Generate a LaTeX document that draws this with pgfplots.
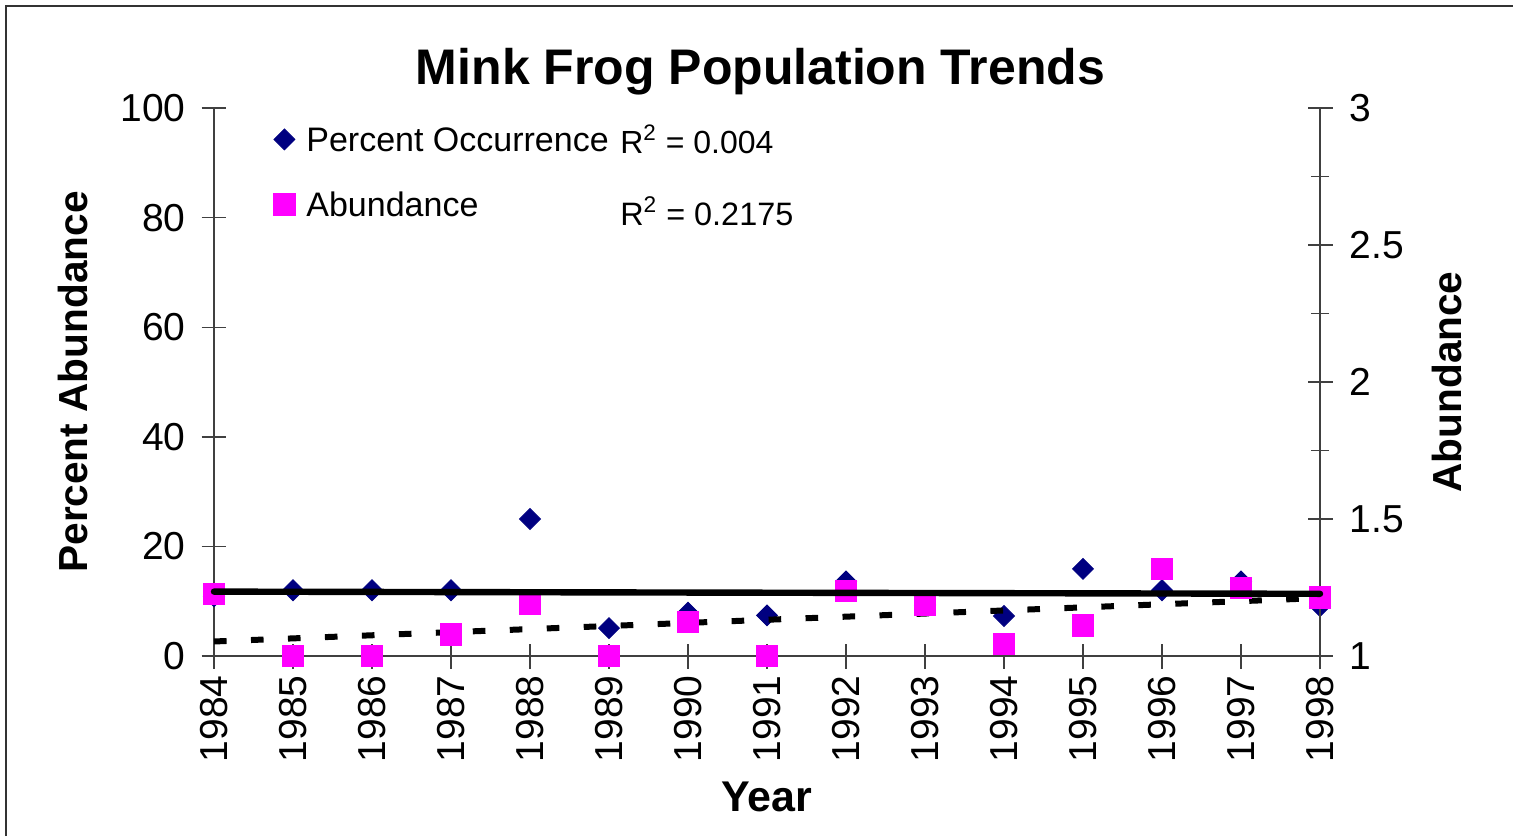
\documentclass[border=0pt]{standalone}
\usepackage{fontspec}
\setmainfont{Liberation Sans}
\usepackage{pgfplots}
\pgfplotsset{compat=1.18}
\definecolor{navyd}{HTML}{000080}
\definecolor{magd}{HTML}{FF00FF}
\pgfplotsset{base/.style={
  width=553pt,height=274pt,scale only axis,
  at={(107pt,90pt)},anchor=south west,
  xmin=1984,xmax=1998,clip=false,
  /pgf/number format/assume math mode=true,
  tick label style={font=\fontsize{19.5}{23}\selectfont},
  tick align=center,major tick length=12.5pt,minor tick length=9pt,
  axis line style={-,line width=0.7pt,black!75},
  every tick/.style={line width=0.7pt,black!75}
}}
\begin{document}
\begin{tikzpicture}
\useasboundingbox (0,0) rectangle (756.5pt,418pt);
\draw[line width=1pt,black!80] (2.75pt,0) -- (2.75pt,415pt) -- (756.5pt,415pt);
\begin{axis}[base,
  axis x line*=bottom, axis y line*=left,
  ymin=0,ymax=100,ytick={0,20,40,60,80,100},
  yticklabel style={xshift=-4.5pt},
  xtick={1984,1985,...,1998},
  xticklabel style={rotate=90,anchor=east,/pgf/number format/1000 sep={}},
  title={Mink Frog Population Trends},
  title style={at={(axis description cs:0.494,1.0438)},anchor=center,font=\bfseries\fontsize{25}{30}\selectfont},
  xlabel={Year},
  xlabel style={at={(axis description cs:0.5,-0.2573)},anchor=center,font=\bfseries\fontsize{21.5}{25}\selectfont},
  ylabel={Percent Abundance},
  ylabel style={at={(axis description cs:-0.1275,0.5)},anchor=center,font=\bfseries\fontsize{20.3}{24}\selectfont},
  legend style={at={(axis description cs:0,1)},anchor=north west,xshift=29.6pt,yshift=-9.5pt,
    draw=none,fill=none,inner sep=0pt,row sep=20.5pt,column sep=5.6pt,
    font=\fontsize{17}{20}\selectfont,
    nodes={inner sep=0pt,text height=12pt,text depth=0pt}},
  legend cell align=left,
  legend image code/.code={\draw[#1] plot coordinates {(0pt,0pt)};},
]
\addplot[only marks,mark=square*,mark size=3.7pt,color=navyd,mark options={rotate=45,fill=navyd,draw=navyd}]
coordinates {(1984,10.9)(1985,12)(1986,12)(1987,12)(1988,25)(1989,5.1)(1990,7.9)(1991,7.4)
(1992,13.6)(1993,9.3)(1994,7.3)(1995,15.9)(1996,12)(1997,13.6)(1998,9.1)};
\addlegendentry{Percent Occurrence}
\addlegendimage{only marks,mark=square*,mark size=5.4pt,color=magd}
\addlegendentry{Abundance}
\node[anchor=west,inner sep=0pt,font=\fontsize{16}{19}\selectfont] at (axis description cs:0.367,0.943) {R\textsuperscript{2} = 0.004};
\node[anchor=west,inner sep=0pt,font=\fontsize{16.2}{19}\selectfont] at (axis description cs:0.367,0.812) {R\textsuperscript{2} = 0.2175};
\end{axis}
\begin{axis}[base,
  axis x line=none, axis y line*=right,
  ymin=1,ymax=3,ytick={1,1.5,2,2.5,3},minor ytick={1.25,1.75,2.25,2.75},
  yticklabel style={xshift=5pt},
  ylabel={Abundance},
  ylabel style={at={(axis description cs:1.1148,0.5)},anchor=center,font=\bfseries\fontsize{20.3}{24}\selectfont},
]
\addplot[only marks,mark=square*,mark size=5.4pt,color=magd]
coordinates {(1984,1.226)(1985,1)(1986,1)(1987,1.078)(1988,1.193)(1989,1)(1990,1.124)(1991,1)
(1992,1.238)(1993,1.186)(1994,1.044)(1995,1.112)(1996,1.318)(1997,1.249)(1998,1.214)};
\addplot[black,line width=3pt,dash pattern=on 6.3pt off 12.2pt] coordinates {(1984,1.053)(1998,1.2115)};
\end{axis}
\begin{axis}[base,hide axis,ymin=0,ymax=100]
\addplot[black,line width=3.2pt,line cap=round] coordinates {(1984,11.75)(1998,11.35)};
\end{axis}
\end{tikzpicture}
\end{document}
